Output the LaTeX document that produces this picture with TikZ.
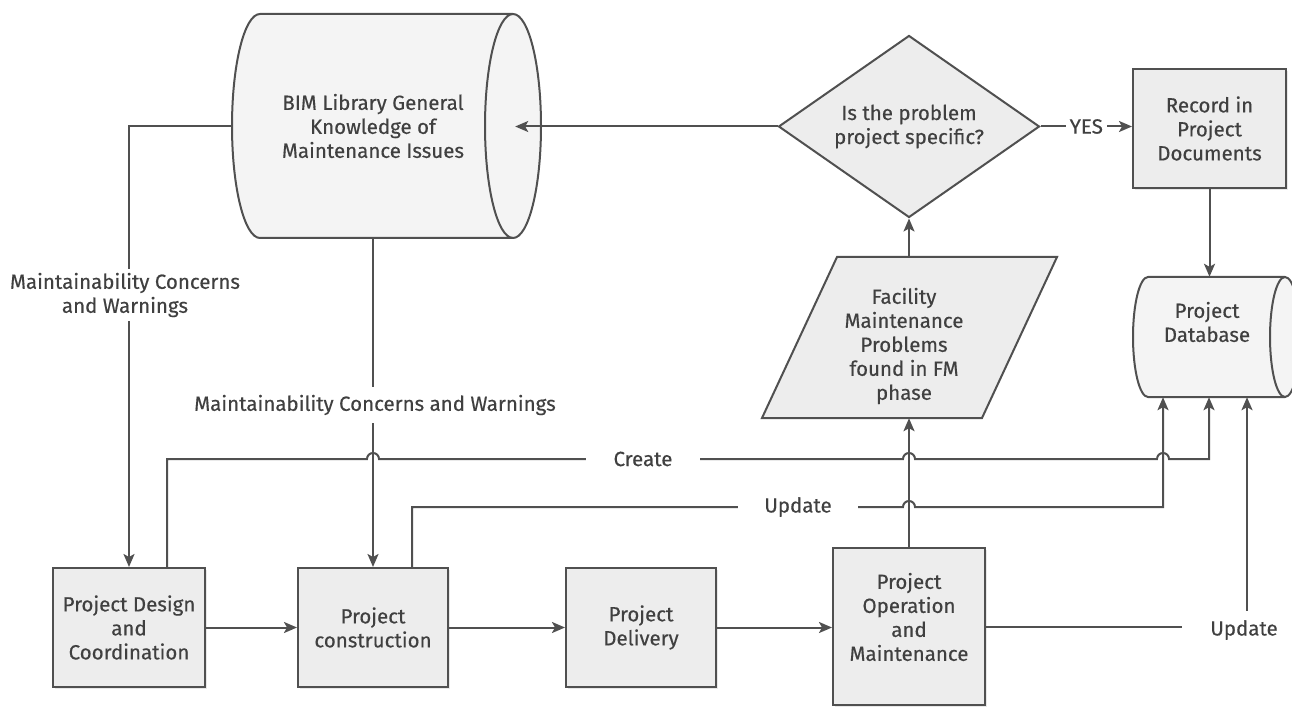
\documentclass[tikz,border=0pt]{standalone}
\usepackage{fontspec}
\setmainfont{Fira Sans}[FakeBold=0.35]
\usetikzlibrary{arrows.meta,shapes.geometric,shadows}
\definecolor{ln}{HTML}{505050}
\definecolor{tx}{HTML}{404040}
\definecolor{bx}{HTML}{EDEDED}
\definecolor{cy}{HTML}{F4F4F4}
\begin{document}
\begin{tikzpicture}[x=1pt,y=-1pt,
  every node/.style={font=\fontsize{20.5}{24}\selectfont, text=tx, align=center},
  box/.style={draw=ln, line width=2pt, fill=bx, inner sep=0pt,
    drop shadow={shadow xshift=2pt,shadow yshift=-2pt,opacity=0.18}},
  shp/.style={draw=ln, line width=2pt, fill=#1},
  conn/.style={draw=ln, line width=2pt},
  arr/.style={conn, -{Stealth[length=13pt,width=11pt,inset=3pt]}},
  lbl/.style={fill=white, inner xsep=3pt, inner ysep=2pt},
  ghost/.style={inner sep=0pt}
]
\useasboundingbox (0,0) rectangle (1292,708);

% ---- BIM library cylinder
\path[shp=cy] (260,14) -- (513,14)
  arc[start angle=90,end angle=-90,x radius=28pt,y radius=112pt] -- (260,238)
  arc[start angle=-90,end angle=-270,x radius=28pt,y radius=112pt] -- cycle;
\draw[conn] (513,14) arc[start angle=90,end angle=270,x radius=28pt,y radius=112pt];
\node[ghost, minimum width=309pt, minimum height=224pt] (BIM) at (386.5,126) {};
\node (BIMt) at (373,126) {BIM Library General\\Knowledge of\\Maintenance Issues};

% ---- Project database cylinder
\path[shp=cy] (1148,277) -- (1285,277)
  arc[start angle=90,end angle=-90,x radius=15pt,y radius=60pt] -- (1148,397)
  arc[start angle=-90,end angle=-270,x radius=15pt,y radius=60pt] -- cycle;
\draw[conn] (1285,277) arc[start angle=90,end angle=270,x radius=15pt,y radius=60pt];
\node[ghost, minimum width=167pt, minimum height=120pt] (DB) at (1216.5,337) {};
\node (DBt) at (1207,322) {Project\\Database};

% ---- decision
\node[shp=bx, diamond, aspect=1.43, minimum width=261pt, minimum height=182pt, inner sep=0pt]
  (DIA) at (909,126.5) {Is the problem\\project specific?};

% ---- record box
\node[box, minimum width=153pt, minimum height=119pt] (REC) at (1209.5,128.5)
  {Record in\\Project\\Documents};

% ---- parallelogram
\path[shp=bx] (837,257) -- (1057,257) -- (982,418) -- (762,418) -- cycle;
\node[ghost, minimum width=150pt, minimum height=161pt] (FMP) at (909,337.5) {};
\node (FMPt) at (904,346) {Facility\\Maintenance\\Problems\\found in FM\\phase};

% ---- bottom row
\node[box, minimum width=152pt, minimum height=119pt] (PDC) at (129,627.5)
  {Project Design\\and\\Coordination};
\node[box, minimum width=150pt, minimum height=119pt] (PC) at (373,627.5)
  {Project\\construction};
\node[box, minimum width=150pt, minimum height=119pt] (PD) at (641,627.5)
  {Project\\Delivery};
\node[box, minimum width=152pt, minimum height=157pt] (POM) at (909,626.5) {};
\node (POMt) at ([yshift=9.5pt]POM.center) {Project\\Operation\\and\\Maintenance};

% ---- helper coordinates
\coordinate (yC) at (0,459);
\coordinate (yU) at (0,507);
\coordinate (cr) at ([xshift=38pt]PDC.north);
\coordinate (up) at ([xshift=39pt]PC.north);
\coordinate (d1) at ([xshift=-53.5pt]DB.south);
\coordinate (d2) at ([xshift=-7.5pt]DB.south);
\coordinate (d3) at ([xshift=30.5pt]DB.south);
\coordinate (jA) at ([xshift=-6pt]PC.north);
\coordinate (jB) at ([xshift=-6pt]POM.north);
\coordinate (jC) at ([xshift=-6pt]d1);
\coordinate (bimE) at ([xshift=-26pt]BIM.east);

% ---- connectors
\draw[arr] (DIA.west) -- (bimE |- DIA.west);
\draw[arr] (DIA.east) -- node[lbl, inner xsep=4pt, inner ysep=1pt] (yes) {YES} (DIA.east -| REC.west);
\draw[arr] (REC.south) -- (REC.south |- DB.north);
\draw[arr] (FMP.north) -- (DIA.south);
\draw[arr] (POM.north) -- (POM.north |- FMP.south);
\draw[arr] (BIM.west) -- (BIM.west -| PDC.north) -- (PDC.north);
\draw[arr] (PC.north |- BIM.south) -- (PC.north);
\draw[arr] (PDC.east) -- (PC.west);
\draw[arr] (PC.east) -- (PD.west);
\draw[arr] (PD.east) -- (PD.east -| POM.west);
\draw[arr] (cr) |- (jA |- yC) arc[start angle=180,end angle=0,radius=6pt]
  -- (jB |- yC) arc[start angle=180,end angle=0,radius=6pt]
  -- (jC |- yC) arc[start angle=180,end angle=0,radius=6pt]
  -- (d2 |- yC) -- (d2);
\draw[arr] (up) |- (jB |- yU) arc[start angle=180,end angle=0,radius=6pt]
  -- (d1 |- yU) -- (d1);
\draw[arr] (POM.east) -- (d3 |- POM.east) -- (d3);

% ---- labels
\node[lbl, inner xsep=28pt] (lC) at (643,459) {Create};
\node[lbl, inner xsep=26pt] (lU) at (798,507) {Update};
\node[lbl, inner xsep=28pt, inner ysep=9pt] (lU2) at (1244,630) {Update};
\node[lbl, inner ysep=8pt] (lM) at (375,405) {Maintainability Concerns and Warnings};
\node[lbl, inner ysep=4pt] (lL) at (125,295) {Maintainability Concerns\\and Warnings};
\end{tikzpicture}
\end{document}
